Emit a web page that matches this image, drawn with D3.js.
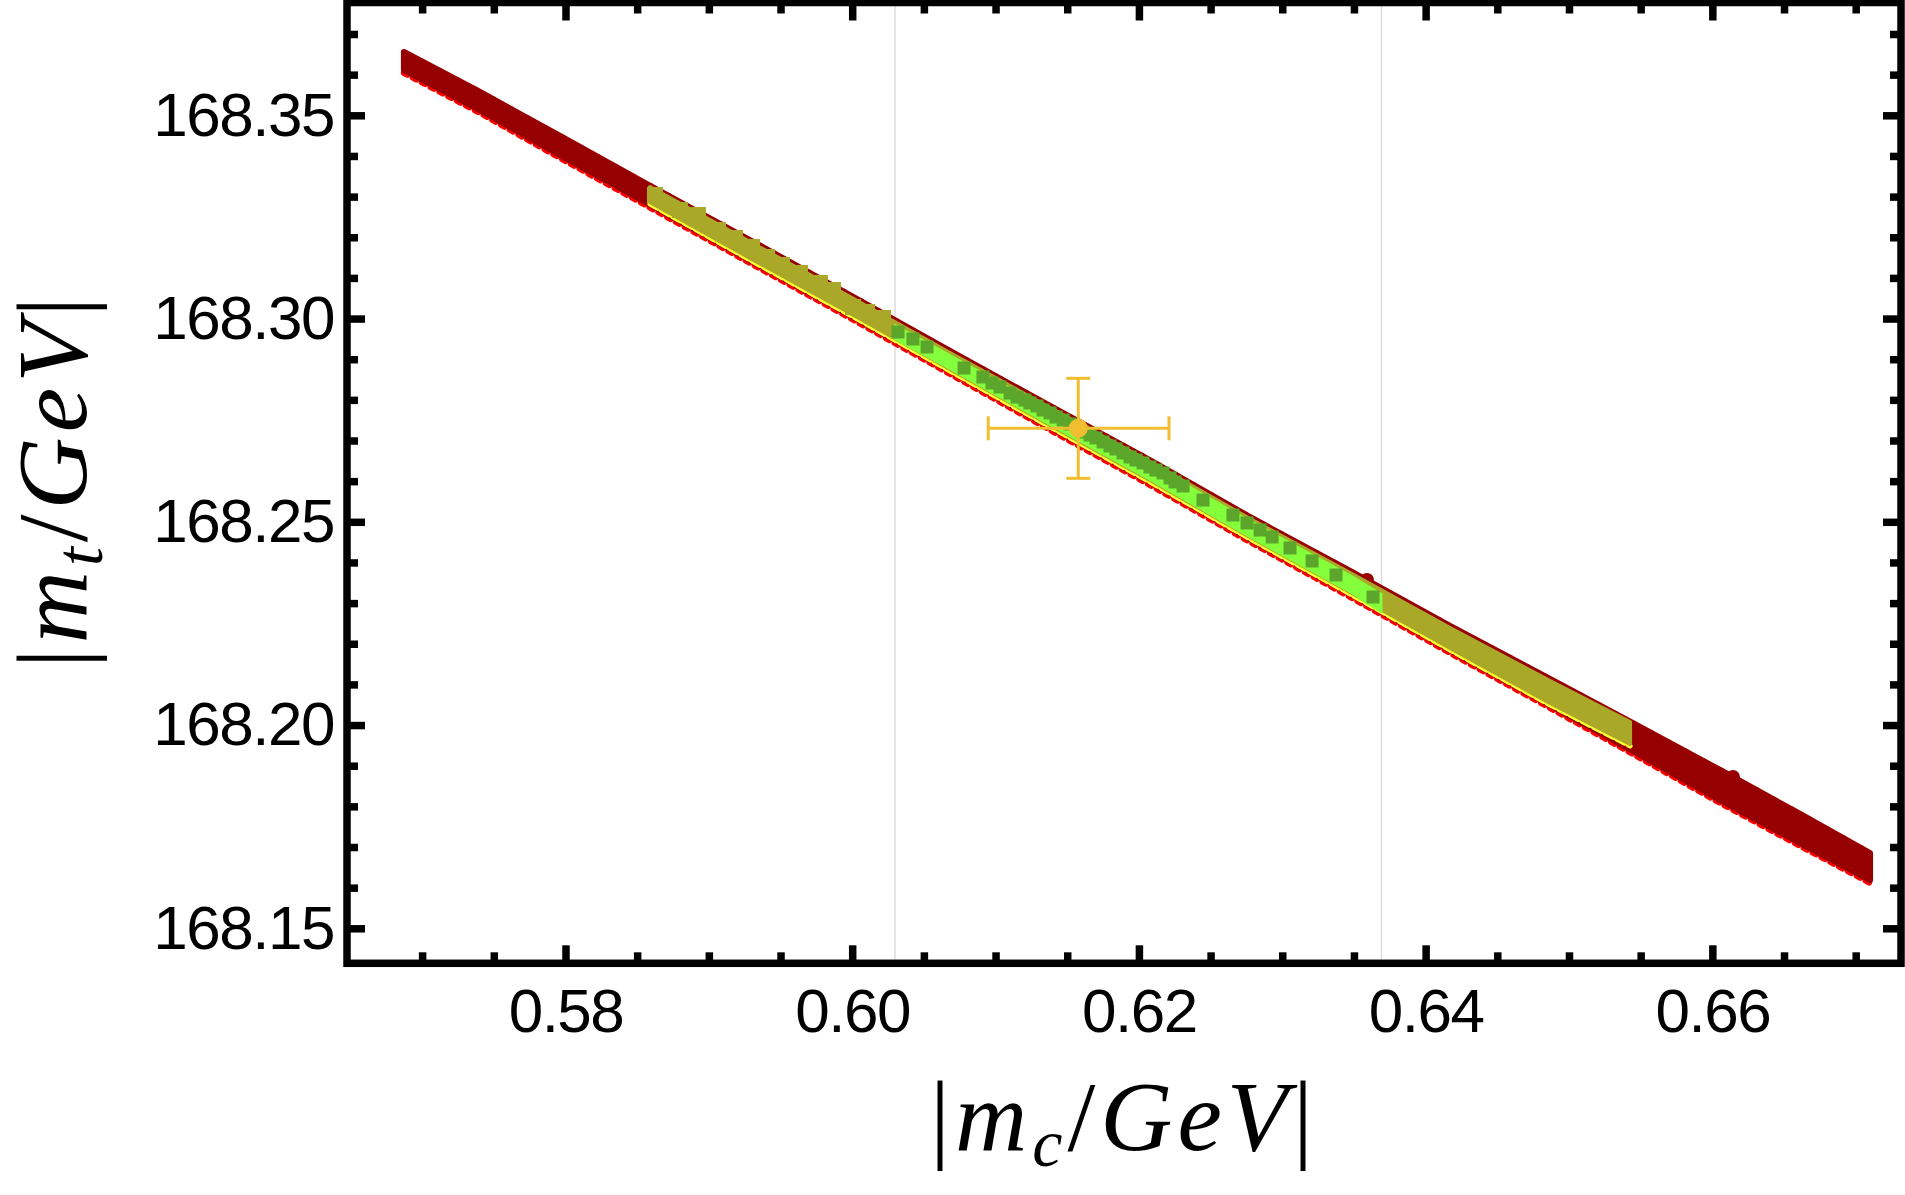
<!DOCTYPE html>
<html>
<head>
<meta charset="utf-8">
<script src="https://cdn.jsdelivr.net/npm/d3@7"></script>
<style>
  body { margin: 0; background: #fff; }
  svg { display: block; }
</style>
</head>
<body>
<script>
const w = 1905;
const h = 1195;

// plot range of the frame
const mcRange = [0.56476, 0.67316];
const mtRange = [168.14139, 168.37775];

// tick values
const mcMajor = [0.58, 0.60, 0.62, 0.64, 0.66];
const mtMajor = [168.15, 168.20, 168.25, 168.30, 168.35];

// vertical grid lines
const mcGrid = [0.60299, 0.63692];

// red region: upper / lower edge of the scatter band
const redMc = [0.56873, 0.57404, 0.57962, 0.58569, 0.59287, 0.59985, 0.60682, 0.61380,
  0.62077, 0.62775, 0.63473, 0.64170, 0.64868, 0.65496, 0.66054, 0.66612, 0.67100];
const redTop = [168.36557, 168.35573, 168.34491, 168.33310, 168.31932, 168.30579, 168.29202,
  168.27849, 168.26520, 168.25118, 168.23790, 168.22437, 168.21133, 168.19952, 168.18894,
  168.17812, 168.16852];
const redBottom = [168.36114, 168.35130, 168.34023, 168.32843, 168.31440, 168.30087, 168.28710,
  168.27332, 168.25979, 168.24577, 168.23224, 168.21846, 168.20493, 168.19263, 168.18156,
  168.17098, 168.16188];
// isolated red points sticking out of the band
const redOutMc = [0.63591, 0.66144];
const redOutMt = [168.23568, 168.18722];

// yellow / olive region
const oliveMc = [0.58589, 0.59287, 0.59985, 0.60682, 0.61380, 0.62077, 0.62775, 0.63473,
  0.64170, 0.64868, 0.65426];
const oliveTop = [168.33236, 168.31883, 168.30530, 168.29153, 168.27800, 168.26471, 168.25069,
  168.23740, 168.22387, 168.21084, 168.20075];
const oliveBottom = [168.32867, 168.31490, 168.30137, 168.28759, 168.27382, 168.26029, 168.24626,
  168.23273, 168.21895, 168.20543, 168.19534];
const oliveSqMc = [0.58624, 0.58799, 0.58924, 0.59064, 0.59182, 0.59301, 0.59406, 0.59510,
  0.59636, 0.59775, 0.59866, 0.60006, 0.60103, 0.60215];
const oliveSqMt = [168.33039, 168.32670, 168.32547, 168.32178, 168.31982, 168.31760, 168.31514,
  168.31317, 168.31121, 168.30875, 168.30702, 168.30284, 168.30161, 168.30013];

// green region
const greenMc = [0.60299, 0.60682, 0.61380, 0.62077, 0.62775, 0.63473, 0.63692];
const greenTop = [168.29841, 168.29103, 168.27750, 168.26422, 168.25020, 168.23691, 168.23224];
const greenBottom = [168.29497, 168.28759, 168.27382, 168.26029, 168.24626, 168.23273, 168.22780];
const greenSqMc = [0.60320, 0.60424, 0.60522, 0.60780, 0.60912, 0.60975, 0.61031, 0.61101,
  0.61150, 0.61205, 0.61240, 0.61289, 0.61331, 0.61380, 0.61422, 0.61471, 0.61519, 0.61610,
  0.61659, 0.61701, 0.61750, 0.61798, 0.61840, 0.61889, 0.61938, 0.61980, 0.62029, 0.62077,
  0.62119, 0.62168, 0.62217, 0.62252, 0.62308, 0.62447, 0.62656, 0.62754, 0.62845, 0.62929,
  0.63054, 0.63208, 0.63375, 0.63633];
const greenSqMt = [168.29669, 168.29497, 168.29300, 168.28783, 168.28562, 168.28414, 168.28316,
  168.28168, 168.28070, 168.27996, 168.27923, 168.27849, 168.27750, 168.27677, 168.27578,
  168.27504, 168.27406, 168.27209, 168.27135, 168.27062, 168.26963, 168.26865, 168.26791,
  168.26693, 168.26594, 168.26520, 168.26447, 168.26348, 168.26274, 168.26201, 168.26078,
  168.25979, 168.25881, 168.25536, 168.25167, 168.24971, 168.24798, 168.24626, 168.24356,
  168.24036, 168.23691, 168.23150];

// measured point with error bars
const expMc = 0.61577, expMcLo = 0.60949, expMcHi = 0.62210;
const expMt = 168.27300, expMtLo = 168.26070, expMtHi = 168.28530;

const frame = { left: 347, right: 1901, top: 2.5, bottom: 963.3 };

const x = d3.scaleLinear().domain(mcRange).range([frame.left, frame.right]);
const y = d3.scaleLinear().domain(mtRange).range([frame.bottom, frame.top]);

const svg = d3.select('body')
  .append('svg')
  .attr('width', w)
  .attr('height', h);

svg.append('rect').attr('width', w).attr('height', h).attr('fill', '#fff');

const plot = svg.append('g');

// grid lines behind everything
plot.selectAll('line.grid')
  .data(mcGrid)
  .enter()
  .append('line')
  .attr('class', 'grid')
  .attr('x1', d => x(d)).attr('x2', d => x(d))
  .attr('y1', frame.top).attr('y2', frame.bottom)
  .attr('stroke', '#dcdcdc')
  .attr('stroke-width', 1.5);

function band(mc, hi, lo) {
  return mc.map((d, i) => ({ mc: d, hi: hi[i], lo: lo[i] }));
}

const area = d3.area()
  .x(d => x(d.mc))
  .y0(d => y(d.lo))
  .y1(d => y(d.hi));

const lowerEdge = d3.line().x(d => x(d.mc)).y(d => y(d.lo));
const upperEdge = d3.line().x(d => x(d.mc)).y(d => y(d.hi));

// red
const red = band(redMc, redTop, redBottom);
plot.append('path')
  .attr('d', lowerEdge(red))
  .attr('transform', 'translate(0,3)')
  .attr('fill', 'none')
  .attr('stroke', '#ff0000')
  .attr('stroke-width', 6)
  .attr('stroke-dasharray', '4 6')
  .attr('stroke-linecap', 'round');
plot.append('path')
  .attr('d', upperEdge(red))
  .attr('transform', 'translate(0,-1)')
  .attr('fill', 'none')
  .attr('stroke', '#ff0000')
  .attr('stroke-width', 4)
  .attr('stroke-dasharray', '3 17');
plot.append('path')
  .attr('d', area(red))
  .attr('fill', '#960000')
  .attr('stroke', '#960000')
  .attr('stroke-width', 6)
  .attr('stroke-linejoin', 'round');
plot.selectAll('circle.redout')
  .data(redOutMc)
  .enter()
  .append('circle')
  .attr('class', 'redout')
  .attr('cx', d => x(d))
  .attr('cy', (d, i) => y(redOutMt[i]))
  .attr('r', 7)
  .attr('fill', '#960000');

// olive / yellow
const olive = band(oliveMc, oliveTop, oliveBottom);
plot.append('path')
  .attr('d', lowerEdge(olive))
  .attr('transform', 'translate(0,2)')
  .attr('fill', 'none')
  .attr('stroke', '#ffff33')
  .attr('stroke-width', 5)
  .attr('stroke-dasharray', '9 4')
  .attr('stroke-linecap', 'round');
plot.append('path')
  .attr('d', area(olive))
  .attr('fill', '#a9a828')
  .attr('stroke', '#a9a828')
  .attr('stroke-width', 4)
  .attr('stroke-linejoin', 'round');
plot.selectAll('rect.olivesq')
  .data(oliveSqMc)
  .enter()
  .append('rect')
  .attr('class', 'olivesq')
  .attr('x', d => x(d) - 8)
  .attr('y', (d, i) => y(oliveSqMt[i]) - 8)
  .attr('width', 16)
  .attr('height', 16)
  .attr('fill', '#a9a828');

// green
const green = band(greenMc, greenTop, greenBottom);
plot.append('path')
  .attr('d', area(green))
  .attr('fill', '#84ff3c')
  .attr('stroke', '#84ff3c')
  .attr('stroke-width', 2)
  .attr('stroke-linejoin', 'round');
plot.selectAll('rect.greensq')
  .data(greenSqMc)
  .enter()
  .append('rect')
  .attr('class', 'greensq')
  .attr('x', d => x(d) - 6.5)
  .attr('y', (d, i) => y(greenSqMt[i]) - 6.5)
  .attr('width', 13)
  .attr('height', 13)
  .attr('fill', '#5ba62b');

// experimental point
const errColor = '#f0be30';
const err = plot.append('g')
  .attr('stroke', errColor)
  .attr('stroke-width', 3);
err.append('line')
  .attr('x1', x(expMcLo)).attr('x2', x(expMcHi))
  .attr('y1', y(expMt)).attr('y2', y(expMt));
err.append('line')
  .attr('x1', x(expMc)).attr('x2', x(expMc))
  .attr('y1', y(expMtLo)).attr('y2', y(expMtHi));
[expMcLo, expMcHi].forEach(v => {
  err.append('line')
    .attr('x1', x(v)).attr('x2', x(v))
    .attr('y1', y(expMt) - 12).attr('y2', y(expMt) + 12);
});
[expMtLo, expMtHi].forEach(v => {
  err.append('line')
    .attr('x1', x(expMc) - 12).attr('x2', x(expMc) + 12)
    .attr('y1', y(v)).attr('y2', y(v));
});
plot.append('circle')
  .attr('cx', x(expMc))
  .attr('cy', y(expMt))
  .attr('r', 9.5)
  .attr('fill', errColor);

// frame with ticks on all four sides
const mcMinor = d3.range(0.57, 0.6721, 0.005).filter(v => !mcMajor.some(m => Math.abs(m - v) < 1e-6));
const mtMinor = d3.range(168.15, 168.3751, 0.01).filter(v => !mtMajor.some(m => Math.abs(m - v) < 1e-6));

const majorLen = 18, minorLen = 11;
const axes = svg.append('g');

function ticks(scale, values, orient, len, pad, labels) {
  return orient(scale)
    .tickValues(values)
    .tickSize(-len)
    .tickPadding(pad)
    .tickFormat(labels ? d3.format('.2f') : '');
}

axes.append('g').attr('transform', `translate(0,${frame.bottom})`)
  .call(ticks(x, mcMinor, d3.axisBottom, minorLen, 0, false));
axes.append('g').attr('transform', `translate(0,${frame.bottom})`)
  .call(ticks(x, mcMajor, d3.axisBottom, majorLen, 25, true));

axes.append('g').attr('transform', `translate(0,${frame.top})`)
  .call(ticks(x, mcMinor, d3.axisTop, minorLen, 0, false));
axes.append('g').attr('transform', `translate(0,${frame.top})`)
  .call(ticks(x, mcMajor, d3.axisTop, majorLen, 0, false));

axes.append('g').attr('transform', `translate(${frame.left},0)`)
  .call(ticks(y, mtMinor, d3.axisLeft, minorLen, 0, false));
axes.append('g').attr('transform', `translate(${frame.left},0)`)
  .call(ticks(y, mtMajor, d3.axisLeft, majorLen, 13, true));

axes.append('g').attr('transform', `translate(${frame.right},0)`)
  .call(ticks(y, mtMinor, d3.axisRight, minorLen, 0, false));
axes.append('g').attr('transform', `translate(${frame.right},0)`)
  .call(ticks(y, mtMajor, d3.axisRight, majorLen, 0, false));

axes.selectAll('.domain').remove();
axes.selectAll('.tick line')
  .attr('stroke', '#000')
  .attr('stroke-width', 7.5);
axes.selectAll('.tick text')
  .attr('fill', '#000')
  .style('font-family', '"Liberation Sans", Arial, sans-serif')
  .style('font-size', '62px')
  .style('letter-spacing', '-1.5px');

axes.append('rect')
  .attr('x', frame.left)
  .attr('y', frame.top)
  .attr('width', frame.right - frame.left)
  .attr('height', frame.bottom - frame.top)
  .attr('fill', 'none')
  .attr('stroke', '#000')
  .attr('stroke-width', 7.5);

// axis labels
function mathLabel(sel, sub) {
  sel.style('font-family', '"Liberation Serif", "Times New Roman", serif')
    .style('font-size', '100px')
    .style('letter-spacing', '5px')
    .attr('fill', '#000')
    .attr('text-anchor', 'middle');
  sel.append('tspan').text('|');
  sel.append('tspan').style('font-style', 'italic').text('m');
  sel.append('tspan').style('font-style', 'italic').style('font-size', '68px').attr('dy', 16).text(sub);
  sel.append('tspan').attr('dy', -16).text('/');
  sel.append('tspan').style('font-style', 'italic').text('GeV');
  sel.append('tspan').text('|');
}

svg.append('text')
  .attr('x', (frame.left + frame.right) / 2)
  .attr('y', 1150)
  .call(mathLabel, 'c');

svg.append('g')
  .attr('transform', 'translate(86,480) rotate(-90)')
  .append('text')
  .attr('x', 0)
  .attr('y', 0)
  .call(mathLabel, 't');
</script>
</body>
</html>
